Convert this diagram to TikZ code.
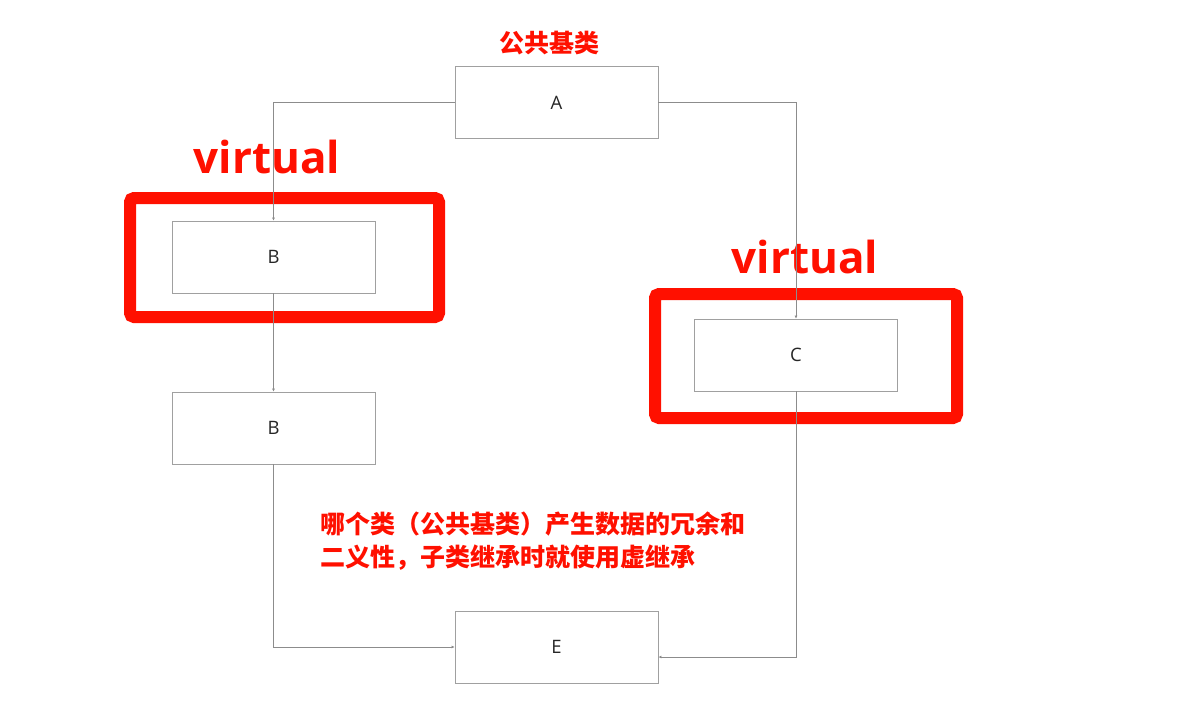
\documentclass[tikz,border=0pt]{standalone}
\usepackage{fontspec}
\usepackage{xcolor}
\usepackage{tikz}
\usetikzlibrary{arrows.meta,positioning,calc}
\setmainfont{Open Sans}
\newfontfamily\cjk{Noto Sans CJK SC}
\newfontfamily\vfont{Open Sans}
\definecolor{markred}{RGB}{255,16,0}
\definecolor{boxgray}{RGB}{160,160,160}
\definecolor{linegray}{RGB}{140,140,140}

\begin{document}
\begin{tikzpicture}[x=1pt,y=-1pt,
 box/.style={draw=boxgray,line width=0.9pt,minimum width=203pt,minimum height=72pt,inner sep=0pt,font=\fontsize{18.5}{20}\selectfont,text=black!85,text depth=-2pt},
 redframe/.style={draw=markred,line width=12pt,rounded corners=4pt},
 vlabel/.style={text=markred,font=\vfont\bfseries\fontsize{44}{50}\selectfont,inner sep=0pt,anchor=base},
 note/.style={text=markred,font=\cjk\bfseries\fontsize{25}{33}\selectfont,inner sep=0pt},
 arr/.style={draw=linegray,line width=0.8pt,-{Latex[length=3pt,width=3pt]}}]
 \useasboundingbox (0,0) rectangle (1183,726);
 \node[box] (a) at (556.5,102.5) {A};
 \node[box] (b1) at (273.5,257) {B};
 \node[box] (b2) at (273.5,428) {B};
 \node[box] (c) at (796,355) {C};
 \node[box] (e) at (556.5,647) {E};
 \node[note] (base) at (549,43) {公共基类};
 \draw[redframe] (130,198) rectangle (439,317);
 \draw[redframe] (655,294) rectangle (957,418);
 \node[vlabel] (v1) at (267,173) {virtual};
 \node[vlabel] (v2) at (805,273) {virtual};
 \node[note,anchor=west,align=left] (why) at (320,541) {哪个类（公共基类）产生数据的冗余和\\二义性，子类继承时就使用虚继承};
 \draw[arr] (a.west) -| (b1.north);
 \draw[arr] (a.east) -| (c.north);
 \draw[arr] (b1.south) -- (b2.north);
 \draw[arr] (b2.south) |- (e.west);
 \draw[arr] (c.south) |- ([yshift=-10pt]e.east);
\end{tikzpicture}
\end{document}
